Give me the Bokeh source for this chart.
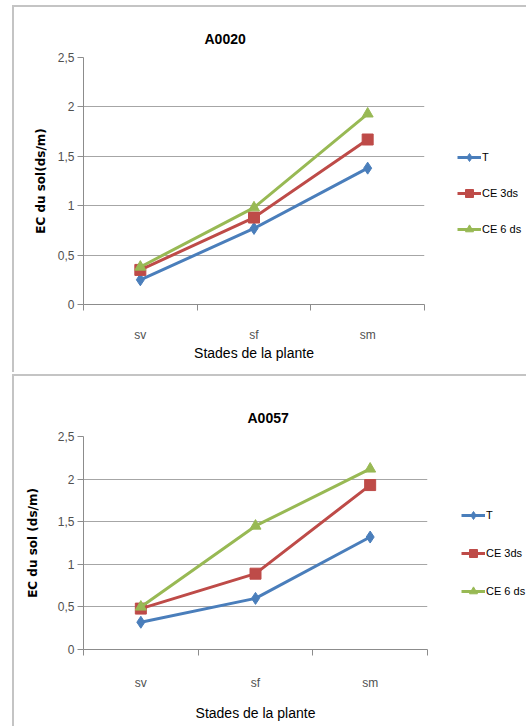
from bokeh.plotting import figure
from bokeh.models import FixedTicker, Legend, LegendItem, Range1d
from bokeh.layouts import column
from bokeh.embed import file_html
from bokeh.resources import INLINE

stages = ["sv", "sf", "sm"]
series_names = ["T", "CE 3ds", "CE 6 ds"]

a0020_T = [0.25, 0.77, 1.38]
a0020_CE3 = [0.35, 0.88, 1.67]
a0020_CE6 = [0.38, 0.98, 1.93]

a0057_T = [0.32, 0.60, 1.32]
a0057_CE3 = [0.48, 0.89, 1.93]
a0057_CE6 = [0.50, 1.45, 2.12]

y_ticks = [0, 0.5, 1, 1.5, 2, 2.5]
y_tick_labels = ["0", "0,5", "1", "1,5", "2", "2,5"]

colors = ["#4a7ebb", "#be4b48", "#98b954"]
markers = ["diamond", "square", "triangle"]
marker_sizes = [12, 11, 11]

FONT = "Liberation Sans"
BORDER = "2px solid #c4c4c4"


def make_panel(title, ylabel, series, margin, fl, fr, ft, fb, fw, fh,
               title_off, title_standoff, tick_standoff, xlabel_standoff,
               ylabel_standoff, leg_loc, leg_spacing):
    p = figure(output_backend="svg", toolbar_location=None,
               x_range=Range1d(0, 3), y_range=Range1d(0, 2.5),
               min_border_left=fl, min_border_right=fr, min_border_top=ft,
               min_border_bottom=fb, frame_width=fw, frame_height=fh,
               margin=margin)
    p.styles = {"border-left": BORDER, "border-top": BORDER}
    p.outline_line_color = None
    p.background_fill_color = "white"
    p.border_fill_color = "white"

    p.title.text = title
    p.title.align = "left"
    p.title.offset = title_off
    p.title.text_font = FONT
    p.title.text_font_size = "14px"
    p.title.text_font_style = "bold"
    p.title.text_color = "#000000"
    p.title.standoff = title_standoff

    xs = [i + 0.5 for i in range(len(stages))]
    items = []
    for name, ys, c, m, s in zip(series_names, series, colors, markers, marker_sizes):
        l = p.line(xs, ys, line_color=c, line_width=3)
        sc = p.scatter(xs, ys, marker=m, size=s, fill_color=c, line_color=c)
        items.append(LegendItem(label=name, renderers=[l, sc]))

    # x axis: category labels at centres, tick marks at category boundaries
    xa = p.xaxis[0]
    xa.ticker = FixedTicker(ticks=xs, minor_ticks=[0, 1, 2, 3])
    xa.major_label_overrides = {x: s for x, s in zip(xs, stages)}
    xa.major_tick_line_color = None
    xa.major_tick_in = 0
    xa.major_tick_out = 6
    xa.minor_tick_line_color = "#8c8c8c"
    xa.minor_tick_in = 0
    xa.minor_tick_out = 6
    xa.axis_line_color = "#8c8c8c"
    xa.major_label_standoff = tick_standoff
    xa.major_label_text_font = FONT
    xa.major_label_text_font_size = "12px"
    xa.major_label_text_color = "#505050"
    xa.axis_label = "Stades de la plante"
    xa.axis_label_text_font = FONT
    xa.axis_label_text_font_size = "14px"
    xa.axis_label_text_font_style = "normal"
    xa.axis_label_text_color = "#000000"
    xa.axis_label_standoff = xlabel_standoff

    # y axis
    ya = p.yaxis[0]
    ya.ticker = FixedTicker(ticks=y_ticks, minor_ticks=[])
    ya.major_label_overrides = {t: s for t, s in zip(y_ticks, y_tick_labels)}
    ya.major_tick_in = 0
    ya.major_tick_out = 6
    ya.major_tick_line_color = "#8c8c8c"
    ya.axis_line_color = "#8c8c8c"
    ya.major_label_standoff = 3
    ya.major_label_text_font = FONT
    ya.major_label_text_font_size = "12px"
    ya.major_label_text_color = "#505050"
    ya.axis_label = ylabel
    ya.axis_label_text_font = "DejaVu Sans"
    ya.axis_label_text_font_size = "12px"
    ya.axis_label_text_font_style = "bold"
    ya.axis_label_text_color = "#000000"
    ya.axis_label_standoff = ylabel_standoff

    p.xgrid.grid_line_color = None
    p.ygrid.ticker = FixedTicker(ticks=y_ticks)
    p.ygrid.grid_line_color = "#a6a6a6"
    p.ygrid.grid_line_width = 1

    leg = Legend(items=items, location=leg_loc, orientation="vertical")
    leg.border_line_color = None
    leg.background_fill_alpha = 0
    leg.padding = 0
    leg.margin = 0
    leg.spacing = leg_spacing
    leg.glyph_width = 24
    leg.glyph_height = 20
    leg.label_height = 20
    leg.label_standoff = 1
    leg.label_text_font = FONT
    leg.label_text_font_size = "11px"
    leg.label_text_color = "#000000"
    p.add_layout(leg, "right")
    return p


p1 = make_panel("A0020", "EC du sol(ds/m)", [a0020_T, a0020_CE3, a0020_CE6],
                (5, 0, 0, 12), 69, 104, 50, 70, 339, 245,
                title_off=121, title_standoff=21, tick_standoff=17,
                xlabel_standoff=0, ylabel_standoff=7,
                leg_loc=(33, 65), leg_spacing=16)
p2 = make_panel("A0057", "EC du sol (ds/m)", [a0057_T, a0057_CE3, a0057_CE6],
                (2, 0, 0, 12), 65, 105, 60, 79, 342, 211,
                title_off=164, title_standoff=22, tick_standoff=20,
                xlabel_standoff=12, ylabel_standoff=15,
                leg_loc=(34, 48), leg_spacing=18)

layout = column(p1, p2, spacing=0)
open("out.html", "w").write(file_html(layout, INLINE))
